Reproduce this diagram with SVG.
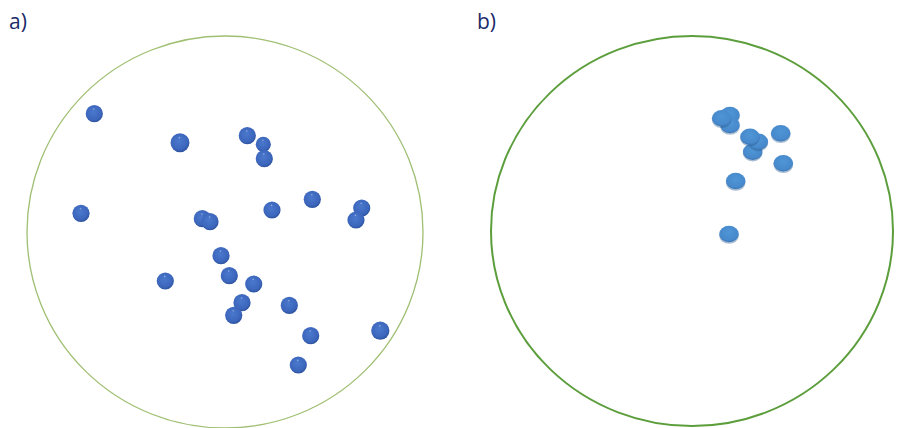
<svg xmlns="http://www.w3.org/2000/svg" width="901" height="428" viewBox="0 0 901 428">
<defs>
<radialGradient id="ballA" cx="0.45" cy="0.4" r="0.6">
<stop offset="0" stop-color="#4a78cc"/>
<stop offset="0.75" stop-color="#3c66bc"/>
<stop offset="1" stop-color="#2d539f"/>
</radialGradient>
<radialGradient id="diskB" cx="0.5" cy="0.4" r="0.6">
<stop offset="0" stop-color="#5096d6"/>
<stop offset="0.8" stop-color="#4789cc"/>
<stop offset="1" stop-color="#3a74b2"/>
</radialGradient>
<filter id="soft" x="-30%" y="-30%" width="160%" height="160%">
<feGaussianBlur stdDeviation="0.6"/>
</filter>
<g id="ball">
<circle r="8.6" fill="url(#ballA)" filter="url(#soft)"/>
<circle cx="-0.5" cy="-4.6" r="0.8" fill="#a9c0ea" opacity="0.7"/>
</g>
<g id="disk">
<ellipse cx="0" cy="1.6" rx="9.8" ry="8.2" fill="#2f5e92" opacity="0.4" filter="url(#soft)"/>
<ellipse rx="9.8" ry="8.2" fill="url(#diskB)" filter="url(#soft)"/>
</g>
</defs>
<style>
.lbl{font-family:"Open Sans","Liberation Sans",sans-serif;font-size:21px;fill:#1b2a68}
.ringA{fill:none;stroke:#9fbf72;stroke-width:1.3}
.ringB{fill:none;stroke:#5c9e3c;stroke-width:2}
</style>
<rect width="901" height="428" fill="#ffffff"/>
<g id="panel-a">
<text class="lbl" x="9" y="29">a)</text>
<ellipse class="ringA" cx="225" cy="232" rx="198" ry="196"/>
<g id="balls-a">
<use href="#ball" x="94.3" y="113.7"/>
<use href="#ball" transform="translate(180,142.7) scale(1.1)"/>
<use href="#ball" x="247.3" y="135.7"/>
<use href="#ball" transform="translate(263.3,144.3) scale(0.88)"/>
<use href="#ball" x="264.3" y="158.7"/>
<use href="#ball" x="81" y="213.3"/>
<use href="#ball" x="202.3" y="218.7"/>
<use href="#ball" x="210" y="221.7"/>
<use href="#ball" x="272" y="210"/>
<use href="#ball" x="312.3" y="199.3"/>
<use href="#ball" x="361.7" y="208"/>
<use href="#ball" x="356" y="220"/>
<use href="#ball" x="221" y="255.7"/>
<use href="#ball" x="165.3" y="281"/>
<use href="#ball" x="229.3" y="275.7"/>
<use href="#ball" x="253.7" y="284"/>
<use href="#ball" x="242" y="302.7"/>
<use href="#ball" x="233.7" y="315.3"/>
<use href="#ball" x="289.3" y="305.3"/>
<use href="#ball" x="310.7" y="335.7"/>
<use href="#ball" transform="translate(380.3,330.7) scale(1.06)"/>
<use href="#ball" x="298.3" y="365"/>
</g>
</g>
<g id="panel-b">
<text class="lbl" x="477" y="29">b)</text>
<ellipse class="ringB" cx="692" cy="231" rx="201" ry="195"/>
<g id="disks-b">
<use href="#disk" x="730" y="115"/>
<use href="#disk" x="730" y="125"/>
<use href="#disk" x="721.7" y="118.3"/>
<use href="#disk" x="752.7" y="151.7"/>
<use href="#disk" x="758.3" y="141.7"/>
<use href="#disk" x="750" y="136.7"/>
<use href="#disk" x="780.7" y="133.3"/>
<use href="#disk" x="783.3" y="163.3"/>
<use href="#disk" x="735.7" y="181"/>
<use href="#disk" x="729" y="234"/>
</g>
</g>
</svg>
